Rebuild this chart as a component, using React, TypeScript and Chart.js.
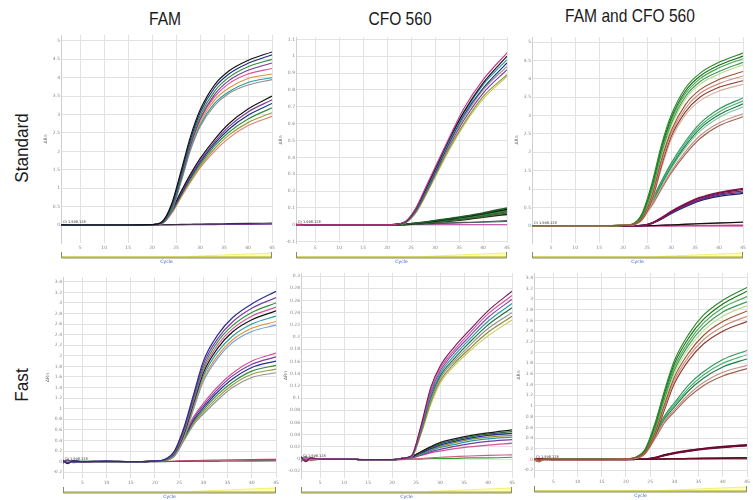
import React, { useEffect, useRef } from 'react';
import { Chart, registerables } from 'chart.js';
Chart.register(...registerables);

// ---------------- data ----------------
const CYCLES = [1, 2, 3, 5, 10, 15, 20, 22, 24, 26, 28, 30, 33, 36, 40, 45];
const X_TICKS = [5, 10, 15, 20, 25, 30, 35, 40, 45];
const Y_TICKS_STD = [0, 0.5, 1, 1.5, 2, 2.5, 3, 3.5, 4, 4.5, 5];
const Y_TICKS_CFO_STD = [-0.1, 0, 0.1, 0.2, 0.3, 0.4, 0.5, 0.6, 0.7, 0.8, 0.9, 1, 1.1];
const Y_TICKS_FAST = [-0.2, 0, 0.2, 0.4, 0.6, 0.8, 1, 1.2, 1.4, 1.6, 1.8, 2, 2.2, 2.4, 2.6, 2.8, 3, 3.2, 3.4];
const Y_TICKS_CFO_FAST = [-0.02, 0, 0.02, 0.04, 0.06, 0.08, 0.1, 0.12, 0.14, 0.16, 0.18, 0.2, 0.22, 0.24, 0.26, 0.28, 0.3];

const COLUMN_TITLES = ['FAM', 'CFO 560', 'FAM and CFO 560'];
const ROW_LABELS = ['Standard', 'Fast'];
const Y_TITLE = 'ΔRn';
const X_TITLE = 'Cycle';
const THRESHOLD_LABEL = 'Ct 1.598.128';

// Standard / FAM
const STD_FAM_HIGH = [
  [0.01, 0, 0, 0, 0, 0, 0.01, 0.08, 0.55, 1.45, 2.4, 3.12, 3.8, 4.18, 4.47, 4.7],
  [0, 0.01, 0, 0, 0, 0, 0.01, 0.07, 0.5, 1.38, 2.32, 3.05, 3.72, 4.1, 4.39, 4.62],
  [0, 0, 0.01, 0, 0, 0, 0.01, 0.06, 0.44, 1.3, 2.24, 2.96, 3.63, 4.01, 4.3, 4.5],
  [0.01, 0, 0, 0, 0, 0, 0.01, 0.05, 0.4, 1.24, 2.16, 2.88, 3.54, 3.92, 4.2, 4.4],
  [0, 0, 0, 0, 0, 0, 0.01, 0.05, 0.42, 1.28, 2.18, 2.86, 3.48, 3.84, 4.1, 4.25],
  [0, 0, 0, 0, 0, 0, 0.01, 0.05, 0.4, 1.24, 2.13, 2.79, 3.39, 3.72, 3.98, 4.1],
  [0, 0, 0, 0, 0, 0, 0.01, 0.04, 0.37, 1.19, 2.08, 2.72, 3.3, 3.62, 3.87, 4.0],
  [0, 0, 0, 0, 0, 0, 0.01, 0.04, 0.35, 1.15, 2.03, 2.67, 3.24, 3.57, 3.8, 3.95],
];
const STD_FAM_LOW = [
  [0, 0, 0, 0, 0, 0, 0.01, 0.06, 0.4, 0.9, 1.38, 1.8, 2.32, 2.75, 3.15, 3.5],
  [0, 0, 0, 0, 0, 0, 0.01, 0.05, 0.38, 0.86, 1.33, 1.74, 2.25, 2.67, 3.07, 3.4],
  [0, 0, 0, 0, 0, 0, 0.01, 0.05, 0.36, 0.83, 1.29, 1.7, 2.2, 2.6, 2.98, 3.3],
  [0, 0, 0, 0, 0, 0, 0.01, 0.04, 0.34, 0.8, 1.25, 1.65, 2.14, 2.52, 2.88, 3.18],
  [0, 0, 0, 0, 0, 0, 0.01, 0.04, 0.32, 0.77, 1.2, 1.6, 2.07, 2.44, 2.78, 3.05],
  [0, 0, 0, 0, 0, 0, 0.01, 0.04, 0.3, 0.74, 1.16, 1.55, 2.0, 2.36, 2.7, 2.95],
];
const STD_FAM_FLAT = [
  [0, 0, 0, 0, 0, 0, 0, 0.005, 0.01, 0.015, 0.02, 0.025, 0.03, 0.036, 0.043, 0.05],
  [0, 0, 0, 0, 0, 0, 0, 0, 0.002, 0.004, 0.006, 0.008, 0.01, 0.013, 0.016, 0.02],
];

// Standard / CFO 560
const STD_CFO_HIGH = [
  [0.004, 0, 0, 0, 0, 0, 0, 0.003, 0.025, 0.1, 0.22, 0.34, 0.52, 0.69, 0.86, 1.02],
  [0, 0.003, 0, 0, 0, 0, 0, 0.003, 0.022, 0.095, 0.21, 0.33, 0.51, 0.67, 0.84, 1.0],
  [0, 0, 0.002, 0, 0, 0, 0, 0.003, 0.02, 0.09, 0.2, 0.32, 0.5, 0.66, 0.83, 0.98],
  [0.003, 0, 0, 0, 0, 0, 0, 0.002, 0.02, 0.088, 0.195, 0.31, 0.49, 0.65, 0.81, 0.96],
  [0, 0, 0, 0, 0, 0, 0, 0.002, 0.018, 0.085, 0.19, 0.305, 0.48, 0.635, 0.8, 0.94],
  [0, 0, 0, 0, 0, 0, 0, 0.002, 0.017, 0.08, 0.185, 0.3, 0.47, 0.62, 0.78, 0.92],
  [0, 0, 0, 0, 0, 0, 0, 0.002, 0.015, 0.075, 0.175, 0.29, 0.455, 0.6, 0.76, 0.89],
  [0, 0, 0, 0, 0, 0, 0, 0.002, 0.014, 0.07, 0.17, 0.28, 0.445, 0.59, 0.745, 0.88],
];
const STD_CFO_LOW = [
  [0, 0, 0, 0, 0, 0, 0, 0.001, 0.004, 0.01, 0.017, 0.025, 0.037, 0.05, 0.07, 0.1],
  [0, 0, 0, 0, 0, 0, 0, 0.001, 0.003, 0.009, 0.015, 0.022, 0.034, 0.046, 0.065, 0.092],
  [0, 0, 0, 0, 0, 0, 0, 0.001, 0.003, 0.008, 0.014, 0.02, 0.031, 0.042, 0.06, 0.085],
  [0, 0, 0, 0, 0, 0, 0, 0.001, 0.003, 0.007, 0.012, 0.018, 0.028, 0.038, 0.055, 0.078],
  [0, 0, 0, 0, 0, 0, 0, 0.001, 0.002, 0.006, 0.011, 0.016, 0.025, 0.034, 0.05, 0.07],
  [0, 0, 0, 0, 0, 0, 0, 0.001, 0.002, 0.005, 0.01, 0.014, 0.022, 0.03, 0.045, 0.062],
];
const STD_CFO_FLAT = [
  [0, 0, 0, 0, 0, 0, 0, 0, 0.002, 0.004, 0.006, 0.008, 0.011, 0.014, 0.018, 0.025],
  [0, 0, 0, 0, 0, 0, 0, 0, 0.001, 0.003, 0.005, 0.007, 0.009, 0.012, 0.015, 0.02],
  [0, 0, 0, 0, 0, 0, 0, 0, 0, 0, 0, 0, 0, 0, 0, 0],
];

// Standard / FAM and CFO 560
const STD_MIX_GREEN_HIGH = [
  [0, 0, 0, 0, 0, 0, 0.01, 0.05, 0.35, 1.15, 2.2, 3.0, 3.75, 4.15, 4.45, 4.7],
  [0, 0, 0, 0, 0, 0, 0.01, 0.05, 0.32, 1.08, 2.12, 2.92, 3.67, 4.07, 4.37, 4.62],
  [0, 0, 0, 0, 0, 0, 0.01, 0.04, 0.3, 1.02, 2.05, 2.85, 3.6, 4.0, 4.3, 4.55],
  [0, 0, 0, 0, 0, 0, 0.01, 0.04, 0.27, 0.96, 1.97, 2.77, 3.52, 3.92, 4.2, 4.45],
  [0, 0, 0, 0, 0, 0, 0.01, 0.03, 0.25, 0.9, 1.9, 2.7, 3.45, 3.85, 4.13, 4.38],
];
const STD_MIX_BROWN_HIGH = [
  [0, 0, 0, 0, 0, 0, 0.01, 0.03, 0.22, 0.82, 1.8, 2.58, 3.3, 3.7, 3.98, 4.2],
  [0, 0, 0, 0, 0, 0, 0.01, 0.03, 0.2, 0.76, 1.72, 2.5, 3.2, 3.6, 3.87, 4.08],
  [0, 0, 0, 0, 0, 0, 0.01, 0.03, 0.18, 0.7, 1.64, 2.42, 3.1, 3.5, 3.77, 3.95],
  [0, 0, 0, 0, 0, 0, 0.01, 0.02, 0.16, 0.65, 1.56, 2.34, 3.02, 3.4, 3.67, 3.85],
];
const STD_MIX_GREEN_LOW = [
  [0, 0, 0, 0, 0, 0, 0.01, 0.03, 0.25, 0.7, 1.22, 1.7, 2.3, 2.78, 3.18, 3.48],
  [0, 0, 0, 0, 0, 0, 0.01, 0.03, 0.24, 0.67, 1.18, 1.65, 2.24, 2.71, 3.1, 3.4],
  [0, 0, 0, 0, 0, 0, 0.01, 0.03, 0.23, 0.64, 1.14, 1.6, 2.18, 2.64, 3.02, 3.32],
  [0, 0, 0, 0, 0, 0, 0.01, 0.03, 0.22, 0.62, 1.1, 1.56, 2.12, 2.57, 2.95, 3.24],
];
const STD_MIX_BROWN_LOW = [
  [0, 0, 0, 0, 0, 0, 0.01, 0.02, 0.2, 0.58, 1.04, 1.48, 2.02, 2.45, 2.8, 3.05],
  [0, 0, 0, 0, 0, 0, 0.01, 0.02, 0.19, 0.55, 1.0, 1.43, 1.95, 2.37, 2.72, 2.97],
];
const STD_MIX_PURPLE = [
  [0, 0, 0, 0, 0, 0, 0, 0, 0.01, 0.08, 0.22, 0.39, 0.6, 0.77, 0.91, 1.02],
  [0, 0, 0, 0, 0, 0, 0, 0, 0.01, 0.075, 0.21, 0.37, 0.58, 0.75, 0.89, 0.99],
  [0, 0, 0, 0, 0, 0, 0, 0, 0.01, 0.07, 0.2, 0.36, 0.56, 0.72, 0.86, 0.95],
  [0, 0, 0, 0, 0, 0, 0, 0, 0.01, 0.065, 0.19, 0.34, 0.54, 0.7, 0.83, 0.91],
  [0, 0, 0, 0, 0, 0, 0, 0, 0.008, 0.06, 0.18, 0.33, 0.52, 0.68, 0.8, 0.88],
];
const STD_MIX_FLAT = [
  [0, 0, 0, 0, 0, 0, 0, 0, 0, 0.005, 0.015, 0.025, 0.04, 0.055, 0.075, 0.1],
  [0, 0, 0, 0, 0, 0, 0, 0, 0, 0.002, 0.004, 0.006, 0.008, 0.01, 0.012, 0.015],
  [0, 0, 0, 0, 0, 0, 0, 0, 0, 0, 0, 0, 0, 0, 0, 0],
];

// Fast / FAM
const FAST_FAM_HIGH = [
  [0.02, -0.03, 0.01, 0, 0.01, 0, 0.01, 0.04, 0.2, 0.65, 1.28, 1.9, 2.4, 2.72, 2.98, 3.22],
  [-0.02, 0.03, -0.01, 0, 0.01, 0, 0.01, 0.04, 0.18, 0.62, 1.24, 1.84, 2.33, 2.64, 2.9, 3.1],
  [0.03, -0.02, 0, 0.01, 0, 0, 0.01, 0.03, 0.17, 0.59, 1.2, 1.78, 2.27, 2.57, 2.82, 3.0],
  [-0.03, 0.02, 0.01, 0, 0, 0, 0.01, 0.03, 0.16, 0.56, 1.16, 1.73, 2.21, 2.51, 2.75, 2.92],
  [0.01, -0.04, 0.02, 0, 0.01, 0, 0.01, 0.03, 0.15, 0.53, 1.12, 1.68, 2.15, 2.45, 2.68, 2.85],
  [-0.01, 0.02, -0.02, 0, 0, 0, 0.01, 0.03, 0.14, 0.5, 1.08, 1.62, 2.08, 2.37, 2.6, 2.75],
  [0.02, 0.01, -0.01, 0, 0, 0, 0.01, 0.02, 0.13, 0.47, 1.03, 1.56, 2.01, 2.3, 2.52, 2.65],
  [-0.02, -0.01, 0.01, 0, 0, 0, 0.01, 0.02, 0.12, 0.45, 1.0, 1.52, 1.96, 2.25, 2.46, 2.58],
];
const FAST_FAM_LOW = [
  [0.02, -0.02, 0, 0, 0, 0, 0.01, 0.03, 0.15, 0.5, 0.85, 1.1, 1.42, 1.67, 1.9, 2.05],
  [-0.01, 0.03, -0.01, 0, 0, 0, 0.01, 0.03, 0.14, 0.48, 0.82, 1.06, 1.37, 1.62, 1.84, 1.98],
  [0.01, -0.02, 0.01, 0, 0, 0, 0.01, 0.03, 0.13, 0.46, 0.79, 1.02, 1.32, 1.56, 1.78, 1.9],
  [-0.02, 0.01, 0, 0, 0, 0, 0.01, 0.02, 0.12, 0.44, 0.76, 0.98, 1.27, 1.5, 1.71, 1.82],
  [0.01, 0.02, -0.01, 0, 0, 0, 0.01, 0.02, 0.11, 0.42, 0.73, 0.94, 1.22, 1.45, 1.65, 1.75],
  [0, -0.03, 0.01, 0, 0, 0, 0.01, 0.02, 0.1, 0.4, 0.7, 0.9, 1.17, 1.4, 1.59, 1.68],
];
const FAST_FAM_FLAT = [
  [0.01, -0.02, 0, 0, 0, 0, 0, 0.005, 0.01, 0.015, 0.02, 0.025, 0.03, 0.034, 0.038, 0.042],
  [-0.02, 0.01, 0, 0, 0, 0, 0, 0, 0.002, 0.004, 0.006, 0.008, 0.01, 0.012, 0.014, 0.016],
];

// Fast / CFO 560
const FAST_CFO_HIGH = [
  [0.003, -0.004, 0.002, 0, 0, -0.001, -0.001, 0.001, 0.005, 0.054, 0.116, 0.152, 0.184, 0.21, 0.243, 0.275],
  [-0.003, 0.002, -0.002, 0, 0, -0.001, -0.001, 0.001, 0.005, 0.052, 0.112, 0.148, 0.179, 0.205, 0.238, 0.268],
  [0.002, -0.003, 0.001, 0, 0, -0.001, -0.001, 0.001, 0.004, 0.05, 0.108, 0.144, 0.175, 0.2, 0.232, 0.262],
  [-0.004, 0.003, 0, 0, 0, -0.001, -0.001, 0.001, 0.004, 0.048, 0.104, 0.14, 0.17, 0.195, 0.226, 0.255],
  [0.004, -0.002, 0.001, 0, 0, -0.001, -0.001, 0.001, 0.004, 0.046, 0.1, 0.136, 0.165, 0.19, 0.22, 0.248],
  [-0.002, 0.004, -0.001, 0, 0, -0.001, -0.001, 0.001, 0.003, 0.044, 0.096, 0.132, 0.161, 0.185, 0.214, 0.24],
  [0.001, -0.004, 0.002, 0, 0, -0.001, -0.001, 0.001, 0.003, 0.042, 0.092, 0.128, 0.157, 0.18, 0.208, 0.234],
  [-0.001, 0.002, -0.003, 0, 0, -0.001, -0.001, 0.001, 0.003, 0.04, 0.088, 0.124, 0.153, 0.176, 0.202, 0.228],
];
const FAST_CFO_LOW = [
  [0.003, -0.003, 0.001, 0, 0, -0.001, -0.001, 0.001, 0.004, 0.012, 0.02, 0.027, 0.033, 0.038, 0.043, 0.048],
  [-0.002, 0.003, -0.002, 0, 0, -0.001, -0.001, 0.001, 0.004, 0.011, 0.019, 0.025, 0.031, 0.036, 0.041, 0.045],
  [0.002, -0.004, 0.001, 0, 0, -0.001, -0.001, 0.001, 0.003, 0.01, 0.017, 0.023, 0.029, 0.034, 0.039, 0.042],
  [-0.004, 0.002, 0, 0, 0, -0.001, -0.001, 0.001, 0.003, 0.009, 0.016, 0.021, 0.027, 0.032, 0.036, 0.039],
  [0.003, -0.001, 0.002, 0, 0, -0.001, -0.001, 0.001, 0.003, 0.008, 0.014, 0.019, 0.024, 0.029, 0.033, 0.036],
  [-0.001, 0.003, -0.001, 0, 0, -0.001, -0.001, 0, 0.002, 0.007, 0.012, 0.016, 0.021, 0.025, 0.029, 0.032],
  [0.002, -0.002, 0.001, 0, 0, -0.001, -0.001, 0, 0.002, 0.006, 0.01, 0.013, 0.017, 0.02, 0.023, 0.026],
];
const FAST_CFO_FLAT = [
  [0.002, -0.003, 0, 0, 0, -0.001, -0.002, -0.001, 0, 0.001, 0.002, 0.003, 0.004, 0.005, 0.006, 0.007],
  [-0.003, 0.002, 0, 0, 0, -0.001, -0.001, 0, 0, 0, 0.001, 0.001, 0.001, 0.002, 0.002, 0.003],
];

// Fast / FAM and CFO 560
const FAST_MIX_GREEN_HIGH = [
  [0.01, -0.04, 0, 0, 0, 0, 0.01, 0.04, 0.2, 0.68, 1.3, 1.85, 2.35, 2.7, 2.98, 3.22],
  [-0.02, -0.03, 0.01, 0, 0, 0, 0.01, 0.04, 0.18, 0.64, 1.25, 1.79, 2.28, 2.62, 2.91, 3.15],
  [0.01, -0.05, 0, 0, 0, 0, 0.01, 0.03, 0.17, 0.6, 1.2, 1.73, 2.21, 2.55, 2.84, 3.05],
  [-0.01, -0.02, 0.01, 0, 0, 0, 0.01, 0.03, 0.16, 0.57, 1.15, 1.67, 2.15, 2.48, 2.76, 2.95],
  [0, -0.04, 0, 0, 0, 0, 0.01, 0.03, 0.15, 0.54, 1.1, 1.61, 2.08, 2.41, 2.68, 2.88],
];
const FAST_MIX_BROWN_HIGH = [
  [0.01, -0.02, 0, 0, 0, 0, 0.01, 0.03, 0.14, 0.5, 1.04, 1.54, 2.0, 2.32, 2.58, 2.78],
  [-0.01, -0.03, 0, 0, 0, 0, 0.01, 0.02, 0.13, 0.47, 0.99, 1.48, 1.93, 2.24, 2.49, 2.68],
  [0, -0.02, 0.01, 0, 0, 0, 0.01, 0.02, 0.12, 0.44, 0.94, 1.42, 1.86, 2.16, 2.4, 2.58],
];
const FAST_MIX_GREEN_LOW = [
  [0.01, -0.03, 0, 0, 0, 0, 0.01, 0.03, 0.15, 0.48, 0.82, 1.06, 1.4, 1.64, 1.87, 2.04],
  [-0.01, -0.04, 0.01, 0, 0, 0, 0.01, 0.03, 0.14, 0.46, 0.79, 1.02, 1.34, 1.58, 1.8, 1.96],
  [0, -0.03, 0, 0, 0, 0, 0.01, 0.03, 0.13, 0.44, 0.76, 0.98, 1.29, 1.52, 1.73, 1.88],
];
const FAST_MIX_BROWN_LOW = [
  [0.01, -0.02, 0, 0, 0, 0, 0.01, 0.02, 0.12, 0.41, 0.72, 0.93, 1.22, 1.44, 1.63, 1.76],
  [0, -0.02, 0.01, 0, 0, 0, 0.01, 0.02, 0.11, 0.39, 0.69, 0.89, 1.17, 1.38, 1.56, 1.7],
];
const FAST_MIX_RED = [
  [0.01, -0.02, 0, 0, 0, 0, 0, 0.001, 0.006, 0.035, 0.085, 0.125, 0.17, 0.205, 0.24, 0.275],
  [-0.01, 0.01, 0, 0, 0, 0, 0, 0.001, 0.005, 0.03, 0.08, 0.12, 0.163, 0.198, 0.232, 0.265],
  [0, -0.01, 0.01, 0, 0, 0, 0, 0.001, 0.004, 0.027, 0.075, 0.113, 0.155, 0.19, 0.223, 0.255],
];
const FAST_MIX_FLAT = [
  [0.01, -0.01, 0, 0, 0, 0, 0, 0, 0.003, 0.006, 0.01, 0.013, 0.017, 0.021, 0.026, 0.032],
  [-0.01, 0.01, 0, 0, 0, 0, 0, 0, 0.002, 0.004, 0.007, 0.01, 0.013, 0.016, 0.02, 0.025],
  [0, 0, 0, 0, 0, 0, 0, 0, 0, 0.001, 0.001, 0.002, 0.002, 0.003, 0.004, 0.005],
];

// ---------------- styles ----------------
const MULTI = ['#111111', '#1b2d80', '#2f8f3a', '#7a3a9a', '#d4559a', '#e0903a', '#2a9aa0', '#909090'];
const MULTI_LOW = ['#111111', '#7a3a9a', '#1b2d80', '#2f8f3a', '#9a9a40', '#e08070', '#2a9aa0'];
const GREENS = ['#2b8a2b', '#1e6e1e', '#4aa84a', '#3c9a5a', '#c0dc90'];
const BROWNS = ['#a0522d', '#c89080', '#8b3a2a', '#d8b0a0'];
const GREENS_LOW = ['#2e9a5a', '#4ab070', '#1f7a4a', '#80c8a0'];
const BROWNS_LOW = ['#c09080', '#a06050'];
const PURPLES = ['#8a1040', '#5a1a6a', '#a01860', '#3040a0', '#2a1a50'];
const REDS = ['#6a0a2a', '#8a1040', '#4a0a3a'];

const PANELS = [
  {
    area: [61, 35, 272, 243], yMin: -0.49, yMax: 5.16, yTicks: Y_TICKS_STD,
    groups: [
      { curves: STD_FAM_HIGH, colors: MULTI },
      { curves: STD_FAM_LOW, colors: MULTI_LOW },
      { curves: STD_FAM_FLAT, colors: ['#333333', '#7a3a9a'] },
    ],
  },
  {
    area: [296, 37, 507, 243], yMin: -0.108, yMax: 1.114, yTicks: Y_TICKS_CFO_STD,
    groups: [
      { curves: STD_CFO_HIGH, colors: ['#d0308a', '#111111', '#2a9aa0', '#1b2d80', '#909090', '#7a3a9a', '#8a9a30', '#c8c860'] },
      { curves: STD_CFO_LOW, colors: ['#1d5e2a', '#111111', '#2f8f3a', '#3a5a3a', '#4a6a2a', '#222222'], width: 1.6 },
      { curves: STD_CFO_FLAT, colors: ['#555555', '#2a7a7a', '#c030a0'] },
    ],
  },
  {
    area: [532, 37, 743, 243], yMin: -0.47, yMax: 5.14, yTicks: Y_TICKS_STD,
    groups: [
      { curves: STD_MIX_BROWN_HIGH, colors: BROWNS },
      { curves: STD_MIX_GREEN_HIGH, colors: GREENS },
      { curves: STD_MIX_BROWN_LOW, colors: BROWNS_LOW },
      { curves: STD_MIX_GREEN_LOW, colors: GREENS_LOW },
      { curves: STD_MIX_PURPLE, colors: PURPLES, width: 1.3 },
      { curves: STD_MIX_FLAT, colors: ['#111111', '#d04080', '#c020a0'], width: 1.3 },
    ],
  },
  {
    area: [63, 277, 276, 478], yMin: -0.31, yMax: 3.49, yTicks: Y_TICKS_FAST,
    groups: [
      { curves: FAST_FAM_HIGH, colors: ['#2a2a90', '#7a3aa0', '#2f8f3a', '#d0559a', '#111111', '#2a9aa0', '#e0903a', '#6aa0d8'] },
      { curves: FAST_FAM_LOW, colors: ['#d0559a', '#7a3aa0', '#2a2a90', '#2f8f3a', '#9a9a40', '#909090'] },
      { curves: FAST_FAM_FLAT, colors: ['#c04060', '#444444'] },
    ],
  },
  {
    area: [301, 273, 512, 478], yMin: -0.031, yMax: 0.305, yTicks: Y_TICKS_CFO_FAST,
    groups: [
      { curves: FAST_CFO_HIGH, colors: ['#7a1a5a', '#d0559a', '#8a4ab0', '#2a9aa0', '#1d6e3a', '#909090', '#8a8a3a', '#d0c860'] },
      { curves: FAST_CFO_LOW, colors: ['#1a1a1a', '#1d6e3a', '#2a2a90', '#8a8a3a', '#2a9aa0', '#7a3aa0', '#d0559a'], width: 1.3 },
      { curves: FAST_CFO_FLAT, colors: ['#d06080', '#3a9a3a'] },
    ],
  },
  {
    area: [534, 273, 747, 477], yMin: -0.33, yMax: 3.49, yTicks: Y_TICKS_FAST,
    groups: [
      { curves: FAST_MIX_BROWN_HIGH, colors: BROWNS },
      { curves: FAST_MIX_GREEN_HIGH, colors: GREENS },
      { curves: FAST_MIX_BROWN_LOW, colors: BROWNS_LOW },
      { curves: FAST_MIX_GREEN_LOW, colors: GREENS_LOW },
      { curves: FAST_MIX_RED, colors: REDS, width: 1.6 },
      { curves: FAST_MIX_FLAT, colors: ['#6a0a2a', '#222222', '#e08040'], width: 1.3 },
    ],
  },
];

const AX_W = 25;
const AX_H = 22;
const PAD_T = 6;
const PAD_R = 6;
const TINY = 'DejaVu Sans';

const TITLE_POS = [[165, 19], [400, 19], [630, 16]];
const ROW_POS = [[22, 148], [22, 385]];

function Panel({ cfg }: { cfg: any }) {
  const ref = useRef<HTMLCanvasElement>(null);
  const [l, t, r, b] = cfg.area;
  const width = r - l + AX_W + PAD_R;
  const height = b - t + PAD_T + AX_H;

  useEffect(() => {
    const datasets: any[] = [];
    cfg.groups.forEach((g: any) => {
      g.curves.forEach((c: number[], i: number) => {
        datasets.push({
          data: c.map((y, k) => ({ x: CYCLES[k], y })),
          borderColor: g.colors[i % g.colors.length],
          borderWidth: g.width ?? 1.15,
          pointRadius: 0,
          fill: false,
          cubicInterpolationMode: 'monotone',
        });
      });
    });

    const decor = {
      id: 'decor',
      afterDraw(chart: any) {
        const { ctx, chartArea: a, scales } = chart;
        ctx.save();
        // y title
        ctx.fillStyle = '#666';
        ctx.font = `4.5px "${TINY}"`;
        ctx.textAlign = 'center';
        ctx.textBaseline = 'middle';
        ctx.save();
        ctx.translate(a.left - 15, (a.top + a.bottom) / 2);
        ctx.rotate(-Math.PI / 2);
        ctx.fillText(Y_TITLE, 0, 0);
        ctx.restore();
        // threshold label
        const y0 = scales.y.getPixelForValue(0);
        ctx.fillStyle = '#333';
        ctx.font = `3.5px "${TINY}"`;
        ctx.textAlign = 'left';
        ctx.textBaseline = 'bottom';
        ctx.fillText(THRESHOLD_LABEL, a.left + 2, y0 - 1);
        // bracket
        const top = a.bottom + 9;
        const bot = a.bottom + 15;
        const w = a.right - a.left;
        ctx.fillStyle = '#ffffb8';
        ctx.beginPath();
        ctx.moveTo(a.left + 0.6 * w, bot - 1);
        ctx.lineTo(a.right - 1, top + 1);
        ctx.lineTo(a.right - 1, bot - 1);
        ctx.closePath();
        ctx.fill();
        ctx.strokeStyle = '#f0f070';
        ctx.lineWidth = 1;
        ctx.beginPath();
        ctx.moveTo(a.left + 0.6 * w, bot - 1.5);
        ctx.lineTo(a.right - 1, top + 1);
        ctx.stroke();
        ctx.strokeStyle = '#c8c840';
        ctx.lineWidth = 1.5;
        ctx.beginPath();
        ctx.moveTo(a.left + 1, bot - 1);
        ctx.lineTo(a.right - 1, bot - 1);
        ctx.stroke();
        ctx.strokeStyle = '#8a8a70';
        ctx.lineWidth = 1;
        ctx.beginPath();
        ctx.moveTo(a.left + 0.5, top);
        ctx.lineTo(a.left + 0.5, bot);
        ctx.lineTo(a.right - 0.5, bot);
        ctx.lineTo(a.right - 0.5, top);
        ctx.stroke();
        // x title
        ctx.fillStyle = '#3a5ac8';
        ctx.font = `4.5px "${TINY}"`;
        ctx.textAlign = 'center';
        ctx.textBaseline = 'middle';
        ctx.fillText(X_TITLE, (a.left + a.right) / 2, bot + 4);
        ctx.restore();
      },
    };

    const tickFont = { size: 4.5, family: TINY };
    const chart = new Chart(ref.current as HTMLCanvasElement, {
      type: 'line',
      data: { datasets },
      options: {
        animation: false,
        responsive: false,
        layout: { padding: { top: PAD_T, right: PAD_R, left: 0, bottom: 0 } },
        plugins: { legend: { display: false }, tooltip: { enabled: false } },
        scales: {
          x: {
            type: 'linear',
            min: 1,
            max: 45,
            afterBuildTicks: (s: any) => { s.ticks = X_TICKS.map((v) => ({ value: v })); },
            afterFit: (s: any) => { s.height = AX_H; },
            grid: { color: '#e2e2e2', drawTicks: false },
            border: { display: false },
            ticks: { font: tickFont, color: '#888', padding: 2, autoSkip: false, maxRotation: 0, callback: (v: any) => String(v) },
          },
          y: {
            type: 'linear',
            min: cfg.yMin,
            max: cfg.yMax,
            afterBuildTicks: (s: any) => { s.ticks = cfg.yTicks.map((v: number) => ({ value: v })); },
            afterFit: (s: any) => { s.width = AX_W; },
            grid: { color: '#e2e2e2', drawTicks: false },
            border: { display: true, color: '#cfcfcf' },
            ticks: { font: tickFont, color: '#888', padding: 1, autoSkip: false, callback: (v: any) => String(v) },
          },
        },
      } as any,
      plugins: [decor],
    });
    return () => chart.destroy();
  }, []);

  return (
    <canvas
      ref={ref}
      width={width}
      height={height}
      style={{ position: 'absolute', left: l - AX_W, top: t - PAD_T, width, height }}
    />
  );
}

const LABEL_FONT = '"Liberation Sans", Arial, sans-serif';

export default function App() {
  useEffect(() => {
    document.body.style.margin = '0';
  }, []);
  return (
    <div style={{ position: 'fixed', left: 0, top: 0, width: 753, height: 500, overflow: 'hidden', background: '#fff' }}>
      {COLUMN_TITLES.map((txt, i) => (
        <div
          key={txt}
          style={{
            position: 'absolute', left: TITLE_POS[i][0], top: TITLE_POS[i][1],
            transform: 'translate(-50%, -50%) scaleX(0.82)', whiteSpace: 'nowrap',
            fontFamily: LABEL_FONT, fontSize: 19, color: '#1a1a1a',
          }}
        >
          {txt}
        </div>
      ))}
      {ROW_LABELS.map((txt, i) => (
        <div
          key={txt}
          style={{
            position: 'absolute', left: ROW_POS[i][0], top: ROW_POS[i][1],
            transform: 'translate(-50%, -50%) rotate(-90deg) scaleX(0.9)', whiteSpace: 'nowrap',
            fontFamily: LABEL_FONT, fontSize: 19, color: '#1a1a1a',
          }}
        >
          {txt}
        </div>
      ))}
      {PANELS.map((p, i) => (
        <Panel key={i} cfg={p} />
      ))}
    </div>
  );
}
